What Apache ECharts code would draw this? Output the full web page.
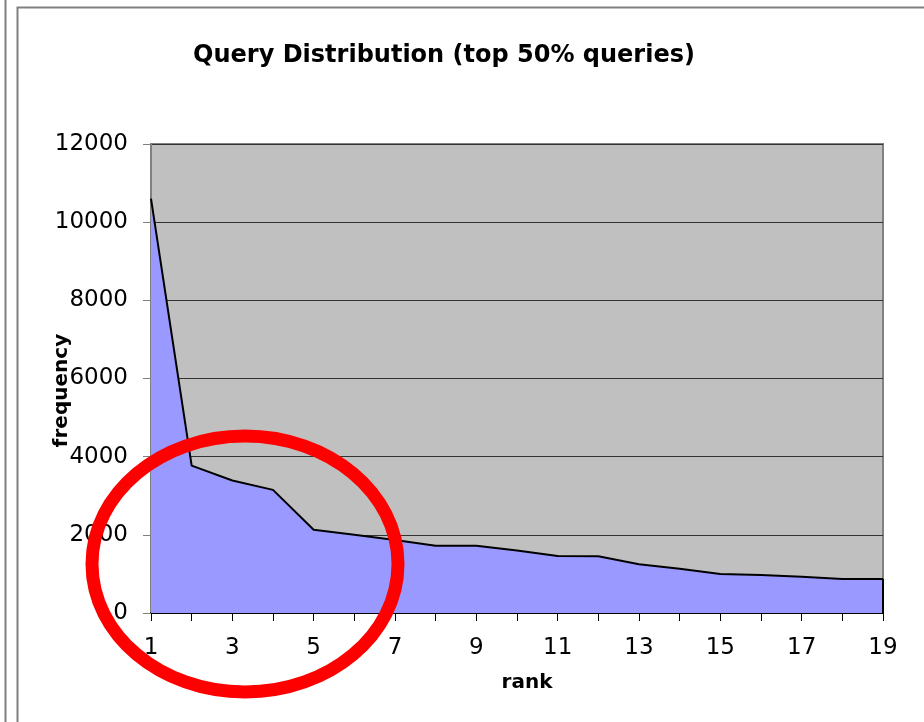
<!DOCTYPE html>
<html>
<head>
<meta charset="utf-8">
<script src="https://cdn.jsdelivr.net/npm/echarts@6/dist/echarts.min.js"></script>
<style>
  html, body { margin: 0; padding: 0; background: #fff; }
  #chart { width: 924px; height: 722px; }
</style>
</head>
<body>
<div id="chart"></div>
<script>
// rank 1..19, values
const ranks = ['1','2','3','4','5','6','7','8','9','10','11','12','13','14','15','16','17','18','19'];
const frequency = [10600, 3770, 3390, 3150, 2130, 2000, 1870, 1720, 1720, 1600, 1460, 1450, 1250, 1130, 1000, 970, 930, 870, 870];
const yTicks = [0, 2000, 4000, 6000, 8000, 10000, 12000];

const chart = echarts.init(document.getElementById('chart'));

const option = {
  animation: false,
  backgroundColor: '#fff',
  title: {
    text: 'Query Distribution (top 50% queries)',
    left: 439,
    top: 39,
    textAlign: 'center',
    textStyle: { fontFamily: 'DejaVu Sans', fontWeight: 'bold', fontSize: 24, color: '#000' }
  },
  grid: {
    left: 151, right: 41, top: 144, bottom: 109,
    show: true,
    backgroundColor: '#c0c0c0',
    borderColor: '#808080',
    borderWidth: 2
  },
  xAxis: {
    type: 'category',
    data: ranks,
    boundaryGap: false,
    name: 'rank',
    nameLocation: 'middle',
    nameGap: 60,
    nameTextStyle: { fontFamily: 'DejaVu Sans', fontWeight: 'bold', fontSize: 20, color: '#000', padding: [0, 0, 0, 20] },
    axisLine: { lineStyle: { color: '#000', width: 2 } },
    axisTick: { show: true, interval: 0, length: 8, lineStyle: { color: '#000' } },
    axisLabel: { interval: 1, margin: 24, fontFamily: 'DejaVu Sans', fontSize: 23, color: '#000' },
    splitLine: { show: false }
  },
  yAxis: {
    type: 'value',
    min: yTicks[0],
    max: yTicks[yTicks.length - 1],
    interval: 2000,
    name: 'frequency',
    nameLocation: 'middle',
    nameGap: 79,
    nameMoveOverlap: false,
    nameTextStyle: { fontFamily: 'DejaVu Sans', fontWeight: 'bold', fontSize: 20, color: '#000', padding: [0, 24, 0, 0] },
    axisLine: { show: true, lineStyle: { color: '#808080', width: 2 } },
    axisTick: { show: true, length: 8, lineStyle: { color: '#808080' } },
    axisLabel: { margin: 23, padding: [4, 0, 0, 0], fontFamily: 'DejaVu Sans', fontSize: 23, color: '#000', formatter: v => String(v) },
    splitLine: { lineStyle: { color: '#333', width: 1 } }
  },
  series: [{
    type: 'line',
    data: frequency,
    symbol: 'none',
    lineStyle: { color: '#000', width: 2 },
    areaStyle: { color: '#9999ff', opacity: 1 },
    markLine: {
      silent: true,
      symbol: 'none',
      label: { show: false },
      lineStyle: { color: '#000', width: 2, type: 'solid' },
      data: [[
        { coord: [ranks[ranks.length - 1], 0] },
        { coord: [ranks[ranks.length - 1], frequency[frequency.length - 1]] }
      ]]
    }
  }],
  graphic: [
    { type: 'line', shape: { x1: 5.5, y1: 0, x2: 5.5, y2: 722 }, style: { stroke: '#808080', lineWidth: 2 } },
    { type: 'rect', shape: { x: 17.5, y: 7.5, width: 920, height: 730 }, style: { fill: 'none', stroke: '#808080', lineWidth: 2 } },
    { type: 'ellipse', z: 100, shape: { cx: 245, cy: 564, rx: 153, ry: 128 }, style: { fill: 'none', stroke: '#ff0000', lineWidth: 13 } }
  ]
};

chart.setOption(option);
</script>
</body>
</html>
